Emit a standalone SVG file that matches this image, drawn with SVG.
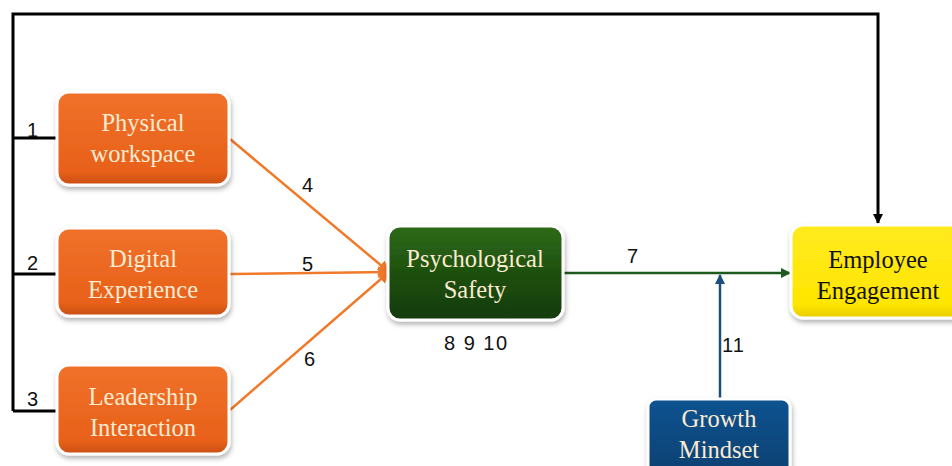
<svg xmlns="http://www.w3.org/2000/svg" width="952" height="466" viewBox="0 0 952 466">
<defs>
<style>
.lbl{font-family:"Liberation Serif","Times New Roman",serif;font-size:24.5px;text-anchor:middle}
.lt{fill:#FBEBD3}
.num{font-family:"Liberation Sans",Arial,sans-serif;font-size:20px;fill:#111}
.box{stroke:#fff;stroke-width:3;filter:url(#sh)}
</style>
<filter id="sh" x="-10%" y="-10%" width="125%" height="130%">
<feDropShadow dx="1" dy="3" stdDeviation="2.5" flood-color="#000" flood-opacity="0.3"/>
</filter>
<linearGradient id="gOr" x1="0" y1="0" x2="0" y2="1">
<stop offset="0" stop-color="#F0712A"/><stop offset="0.85" stop-color="#E8611A"/><stop offset="1" stop-color="#C94E10"/>
</linearGradient>
<linearGradient id="gGr" x1="0" y1="0" x2="0" y2="1">
<stop offset="0" stop-color="#2E6A1A"/><stop offset="0.5" stop-color="#1E500E"/><stop offset="1" stop-color="#143A08"/>
</linearGradient>
<linearGradient id="gYe" x1="0" y1="0" x2="0" y2="1">
<stop offset="0" stop-color="#FFEA20"/><stop offset="0.85" stop-color="#FFE600"/><stop offset="1" stop-color="#E8CC00"/>
</linearGradient>
<linearGradient id="gBl" x1="0" y1="0" x2="0" y2="1">
<stop offset="0" stop-color="#0F5390"/><stop offset="1" stop-color="#0A3F70"/>
</linearGradient>
<marker id="aOr" viewBox="0 0 10 10" refX="9" refY="5" markerWidth="12" markerHeight="12" orient="auto" markerUnits="userSpaceOnUse"><path d="M0,0 L10,5 L0,10 z" fill="#F07A2A"/></marker>
<marker id="aGr" viewBox="0 0 10 10" refX="9" refY="5" markerWidth="10" markerHeight="10" orient="auto" markerUnits="userSpaceOnUse"><path d="M0,0 L10,5 L0,10 z" fill="#1E5A1E"/></marker>
<marker id="aBl" viewBox="0 0 10 10" refX="9" refY="5" markerWidth="10" markerHeight="10" orient="auto" markerUnits="userSpaceOnUse"><path d="M0,0 L10,5 L0,10 z" fill="#1A4F80"/></marker>
<marker id="aBk" viewBox="0 0 10 10" refX="9" refY="5" markerWidth="10" markerHeight="10" orient="auto" markerUnits="userSpaceOnUse"><path d="M0,0 L10,5 L0,10 z" fill="#000"/></marker>
</defs>
<rect width="952" height="466" fill="#fff"/>
<g id="connectors" fill="none">
<polyline points="13,411 13,14 878,14 878,223" stroke="#000" stroke-width="3" marker-end="url(#aBk)"/>
<line x1="13" y1="138" x2="58" y2="138" stroke="#000" stroke-width="3"/>
<line x1="13" y1="274" x2="58" y2="274" stroke="#000" stroke-width="3"/>
<line x1="13" y1="411" x2="58" y2="411" stroke="#000" stroke-width="3"/>
<line x1="230" y1="139" x2="389" y2="272" stroke="#F07A2A" stroke-width="2.5" marker-end="url(#aOr)"/>
<line x1="230" y1="274" x2="389" y2="272" stroke="#F07A2A" stroke-width="2.5" marker-end="url(#aOr)"/>
<line x1="230" y1="410" x2="389" y2="272" stroke="#F07A2A" stroke-width="2.5" marker-end="url(#aOr)"/>
<line x1="563" y1="273" x2="790" y2="273" stroke="#1E5A1E" stroke-width="2.5" marker-end="url(#aGr)"/>
<line x1="720" y1="400" x2="720" y2="275" stroke="#1A4F80" stroke-width="2.5" marker-end="url(#aBl)"/>
<text class="num" x="27" y="137">1</text>
<text class="num" x="27" y="270">2</text>
<text class="num" x="27" y="406">3</text>
<text class="num" x="302" y="192">4</text>
<text class="num" x="302" y="271">5</text>
<text class="num" x="304" y="366">6</text>
<text class="num" x="627" y="263">7</text>
<text class="num" x="444" y="350" letter-spacing="1.5">8 9 10</text>
<text class="num" x="722" y="352" letter-spacing="1">11</text>
</g>
<g id="physical">
<rect class="box" x="57" y="92" width="172" height="93" rx="12" fill="url(#gOr)"/>
<text class="lbl lt" x="143" y="131">Physical</text>
<text class="lbl lt" x="143" y="162">workspace</text>
</g>
<g id="digital">
<rect class="box" x="57" y="228" width="172" height="88" rx="12" fill="url(#gOr)"/>
<text class="lbl lt" x="143" y="267">Digital</text>
<text class="lbl lt" x="143" y="298">Experience</text>
</g>
<g id="leadership">
<rect class="box" x="57" y="365" width="172" height="89" rx="12" fill="url(#gOr)"/>
<text class="lbl lt" x="143" y="405">Leadership</text>
<text class="lbl lt" x="143" y="436">Interaction</text>
</g>
<g id="psych">
<rect class="box" x="388" y="226" width="175" height="94" rx="12" fill="url(#gGr)"/>
<text class="lbl lt" x="475" y="267">Psychological</text>
<text class="lbl lt" x="475" y="298">Safety</text>
</g>
<g id="employee">
<rect class="box" x="791" y="225" width="175" height="93" rx="12" fill="url(#gYe)"/>
<text class="lbl" x="878" y="268" fill="#111">Employee</text>
<text class="lbl" x="878" y="299" fill="#111">Engagement</text>
</g>
<g id="growth">
<rect class="box" x="648" y="399" width="142" height="80" rx="8" fill="url(#gBl)"/>
<text class="lbl lt" x="719" y="427">Growth</text>
<text class="lbl lt" x="719" y="458">Mindset</text>
</g>
</svg>
